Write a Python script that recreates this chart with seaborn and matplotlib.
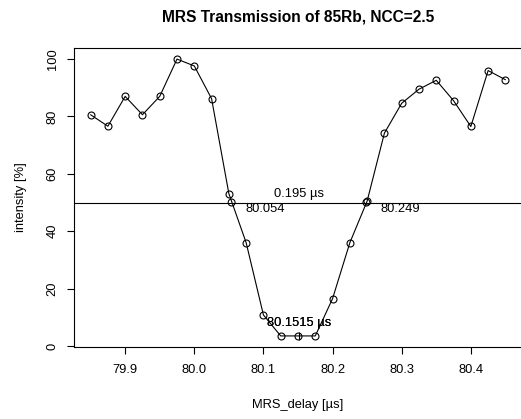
import numpy as np
import pandas as pd
import matplotlib
matplotlib.use("Agg")
import matplotlib.pyplot as plt
import seaborn as sns

# measured MRS transmission
delay = [79.850, 79.875, 79.900, 79.925, 79.950, 79.975, 80.000, 80.025, 80.050,
         80.075, 80.100, 80.125, 80.150, 80.175, 80.200, 80.225, 80.250, 80.275,
         80.300, 80.325, 80.350, 80.375, 80.400, 80.425, 80.450]
intensity = [80.6, 76.6, 87.0, 80.6, 87.0, 100.0, 97.6, 86.2, 53.1,
             36.0, 10.8, 3.5, 3.5, 3.5, 16.5, 36.0, 50.5, 74.2,
             84.6, 89.5, 92.6, 85.5, 76.5, 96.0, 92.8]

# half maximum crossings and centre
half_level = 50
cross_x = [80.054, 80.249]
cross_lab = ["80.054", "80.249"]
centre_x = 80.1515
width_lab = "0.195 µs"
centre_lab = "80.1515 µs"

df = pd.DataFrame({"MRS_delay": delay, "intensity": intensity})
cross = pd.DataFrame({"MRS_delay": cross_x, "intensity": [half_level] * 2})

sns.set_theme(style="ticks")
plt.rcParams["font.family"] = ["Liberation Sans", "DejaVu Sans"]
plt.rcParams["text.color"] = "black"
plt.rcParams["axes.labelcolor"] = "black"
fs = 9.3

fig = plt.figure(figsize=(5.21, 4.19), dpi=100)
ax = fig.add_axes([74 / 521, 1 - 347 / 419, 448 / 521, 299 / 419])

sns.lineplot(data=df, x="MRS_delay", y="intensity", ax=ax, color="black",
             linewidth=0.8, marker="o", markersize=5, markerfacecolor="none",
             markeredgecolor="black", markeredgewidth=0.8, sort=False,
             estimator=None)
sns.scatterplot(data=cross, x="MRS_delay", y="intensity", ax=ax, s=25,
                facecolor="none", edgecolor="black", linewidth=0.8)
ax.plot([centre_x], [min(intensity)], marker="|", color="black",
        markersize=6, markeredgewidth=0.8)

ax.axhline(half_level, color="black", linewidth=0.8)
ax.text(centre_x, half_level + 1, width_lab, ha="center", va="bottom", fontsize=fs)
for cx, lab in zip(cross_x, cross_lab):
    ax.text(cx + 0.02, half_level - 2.2, lab, ha="left", va="center", fontsize=fs)
for _ in range(2):
    ax.text(centre_x, 8.0, centre_lab, ha="center", va="center", fontsize=fs)

xmin, xmax = min(delay), max(delay)
ymin, ymax = min(intensity), max(intensity)
ax.set_xlim(xmin - 0.04 * (xmax - xmin), xmax + 0.04 * (xmax - xmin))
ax.set_ylim(ymin - 0.04 * (ymax - ymin), ymax + 0.04 * (ymax - ymin))
ax.set_xticks([79.9, 80.0, 80.1, 80.2, 80.3, 80.4])
ax.set_xticklabels(["79.9", "80.0", "80.1", "80.2", "80.3", "80.4"])
ax.set_yticks([0, 20, 40, 60, 80, 100])
ax.tick_params(axis="both", direction="out", length=5, width=0.8,
               labelsize=fs, color="black", labelcolor="black")
ax.tick_params(axis="x", pad=7)
ax.tick_params(axis="y", pad=6)
for lab in ax.get_yticklabels():
    lab.set_rotation(90)
    lab.set_va("center")

for s in ax.spines.values():
    s.set_visible(True)
    s.set_color("black")
    s.set_linewidth(0.8)

ax.set_xlabel("MRS_delay [µs]", fontsize=fs, va="center")
ax.set_ylabel("intensity [%]", fontsize=fs, va="center")
ax.xaxis.set_label_coords((298 - 74) / 448, -58 / 299)
ax.yaxis.set_label_coords(-53 / 448, 0.5)
ax.set_title("MRS Transmission of 85Rb, NCC=2.5", fontsize=11.2,
             fontweight="bold", pad=0, y=1 + 31 / 299, va="center")

fig.savefig("out.png", dpi=100)
